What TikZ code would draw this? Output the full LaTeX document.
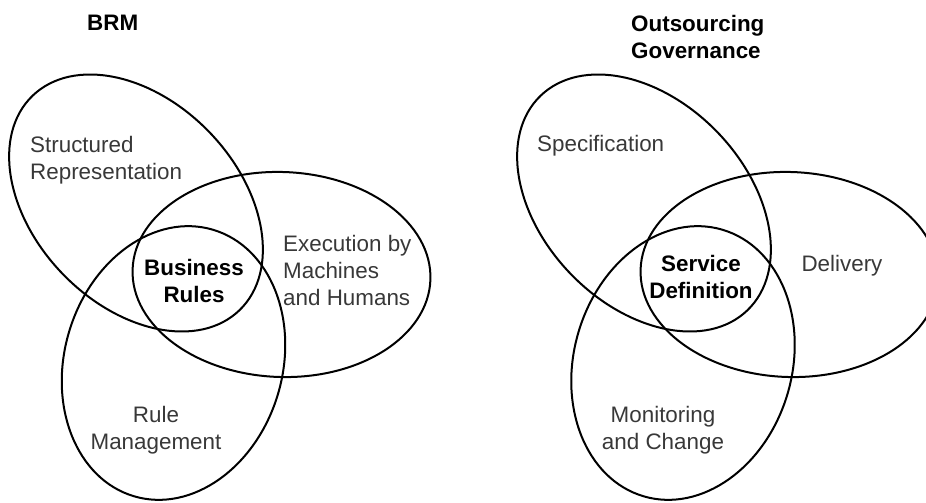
\documentclass[tikz,border=0pt]{standalone}
\usepackage{fontspec}
\setmainfont{Liberation Sans}
\usepackage{tikz}

\begin{document}
\begin{tikzpicture}[
            x=1pt,y=-1pt,
            set/.style={draw,line width=2pt},
            lab/.style={inner sep=0pt,text=black!78,font=\fontsize{22.4pt}{27pt}\selectfont},
            side/.style={lab,align=left,anchor=west},
            mid/.style={lab,align=center},
            core/.style={mid,text=black,font=\fontsize{22.4pt}{27pt}\selectfont\bfseries},
            title/.style={core,align=left,anchor=west}
          ]
          \useasboundingbox (0,0) rectangle (926,503);
          \clip (0,0) rectangle (926,503);

          %BRM sets
          \draw[set,rotate around={-46:(136,203)}] (136,203) ellipse[x radius=149pt,y radius=102pt];
          \draw[set,rotate around={-2:(281.5,274.5)}] (281.5,274.5) ellipse[x radius=149pt,y radius=102.5pt];
          \draw[set,rotate around={73.5:(173.5,363)}] (173.5,363) ellipse[x radius=139pt,y radius=109pt];

          %governance sets
          \draw[set,rotate around={-46:(644,203)}] (644,203) ellipse[x radius=149pt,y radius=102pt];
          \draw[set,rotate around={-2:(789.5,274.5)}] (789.5,274.5) ellipse[x radius=149pt,y radius=102.5pt];
          \draw[set,rotate around={73.5:(683,363)}] (683,363) ellipse[x radius=139pt,y radius=109pt];

          %BRM labels
          \node[title] (brm) at (87,23) {BRM};
          \node[side] (struct) at (30,160) {Structured\\Representation};
          \node[side] (exec) at (283,270) {Execution by\\Machines\\and Humans};
          \node[core] (rules) at (194,281) {Business\\Rules};
          \node[mid] (mgmt) at (156,430) {Rule\\Management};

          %governance labels
          \node[title] (gov) at (631,37) {Outsourcing\\Governance};
          \node[side] (spec) at (537,146) {Specification};
          \node[mid] (deliv) at (842,266) {Delivery};
          \node[core] (servdef) at (701,277) {Service\\Definition};
          \node[mid] (monit) at (663,430) {Monitoring\\and Change};

      \end{tikzpicture}
\end{document}
